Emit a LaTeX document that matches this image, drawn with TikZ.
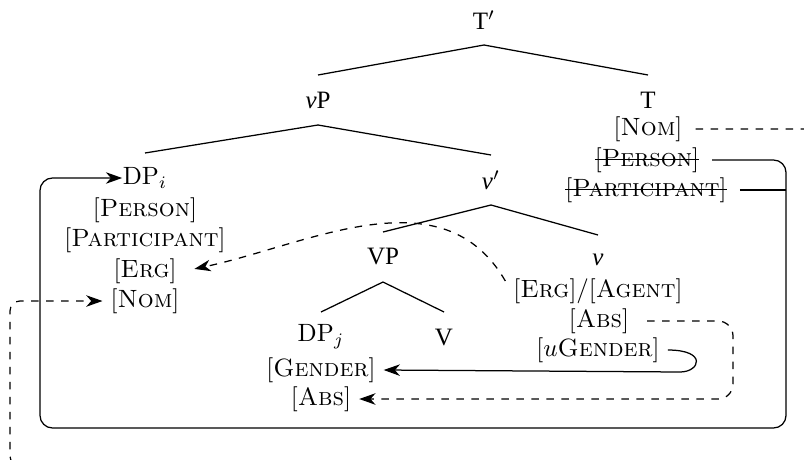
\documentclass[tikz,border=0pt]{standalone}
\usepackage{fontspec}
\newfontfamily\catfont{Liberation Serif}
\newcommand\strikefeat[1]{\setbox0\hbox{#1}\rlap{\rule[0.55ex]{\wd0}{0.45pt}}\box0}
\usetikzlibrary{arrows.meta}
\tikzset{
  cat/.style={font=\catfont, inner sep=0pt, minimum height=19.5pt},
  feat/.style={inner sep=3pt},
  agree/.style={-{Stealth[length=6.5pt,width=4.6pt,inset=2pt]}},
  case/.style={dashed, -{Stealth[length=6.5pt,width=4.6pt,inset=2pt]}},
}
\begin{document}
\begin{tikzpicture}[x=0.4pt, y=-0.4pt, line width=0.5pt]
      \useasboundingbox (0,0) rectangle (804,459);
      \clip (0,0) rectangle (804,459);
      \draw
        (484,20) node[cat] (Tbar){T$'$}
        (318,100) node[cat] (vP){\textit{v}P}
        (648,100) node[cat] (T){T}
        (648,129) node[feat] (Tnom){[\textsc{Nom}]}
        (647,160) node[feat] (Tper){\strikefeat{[\textsc{Person}]}}
        (646,190) node[feat] (Tpar){\strikefeat{[\textsc{Participant}]}}
        (145,178) node[cat, font=\normalfont] (DPi){DP$_i$}
        (145,210) node[feat] (per){[\textsc{Person}]}
        (145,240) node[feat] (par){[\textsc{Participant}]}
        (145,271) node[feat] (erg){[\textsc{Erg}]}
        (145,301) node[feat] (nom){[\textsc{Nom}]}
        (491,180) node[cat] (vbar){\textit{v}$'$}
        (383,257) node[cat] (VP){VP}
        (598,260) node[cat] (v){\textit{v}}
        (598,291) node[feat] (verg){[\textsc{Erg}]/[\textsc{Agent}]}
        (599,321) node[feat] (vabs){[\textsc{Abs}]}
        (598,350) node[feat] (vgen){[$u$\textsc{Gender}]}
        (321,337) node[cat, font=\normalfont] (DPj){DP$_j$}
        (444,337) node[cat] (V){V}
        (321,370) node[feat] (gen){[\textsc{Gender}]}
        (321,399) node[feat] (abs){[\textsc{Abs}]};
      \coordinate (rb) at (786,428);
      \coordinate (lb) at (40,428);
      \coordinate (far) at (850,466);
      \coordinate (nl) at (10,466);
      \coordinate (loop) at (680,372);
      \coordinate (absr) at (733,399);
      \begin{scope}[-]
        \draw (Tbar.south) to (vP.north);
        \draw (Tbar.south) to (T.north);
        \draw (vP.south) to (DPi.north);
        \draw (vP.south) to (vbar.north);
        \draw (vbar.south) to (VP.north);
        \draw (vbar.south) to (v.north);
        \draw (VP.south) to (DPj.north);
        \draw (VP.south) to (V.north);
      \end{scope}
      \draw[agree, rounded corners=5pt, shorten <=2pt]
        (Tper.east) -- (Tper.east -| rb) -- (rb) -- (lb) -- (lb |- DPi.west) -- (DPi.west);
      \draw[shorten <=2pt] (Tpar.east) -- (Tpar.east -| rb);
      \draw[case, rounded corners=4pt, shorten <=2pt]
        (Tnom.east) -- (far |- Tnom.east) -- (far) -- (nl) -- (nl |- nom.west) -- (nom.west);
      \draw[case, shorten >=4pt] ([yshift=4pt]verg.west) to[out=120, in=12] (erg.east);
      \draw[agree] (vgen.east) .. controls +(40,0) and +(20,0) .. (loop) -- (gen.east);
      \draw[case, rounded corners=6pt, shorten <=4pt]
        (vabs.east) -- (vabs.east -| absr) -- (absr) -- (abs.east);
\end{tikzpicture}
\end{document}
